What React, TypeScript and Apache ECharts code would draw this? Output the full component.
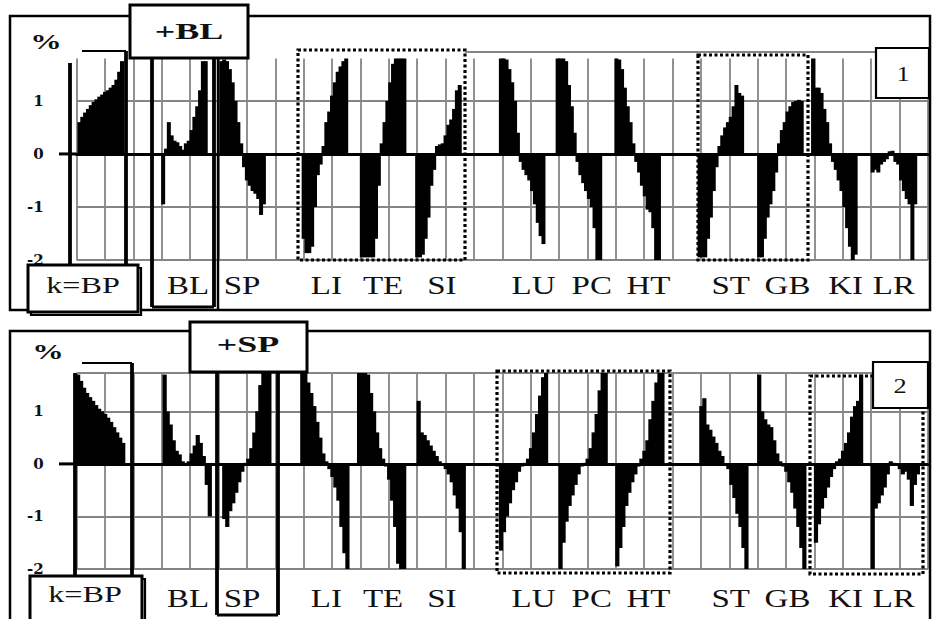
import React, { useEffect, useRef } from 'react';
import * as echarts from 'echarts';

// ---- data (values in %) ----
const SEGMENTS = ['BP', 'BL', 'SP', 'LI', 'TE', 'SI', 'LU', 'PC', 'HT', 'ST', 'GB', 'KI', 'LR'];
// segment start on the x axis (grid units)
const SEG_START_1 = [0.05, 3.0, 5.05, 7.95, 10.0, 11.95, 14.9, 16.9, 18.97, 21.9, 24.0, 25.9, 28.0];
const SEG_START_2 = [0.0, 3.05, 5.15, 7.9, 9.9, 12.0, 14.9, 17.0, 19.0, 21.96, 24.0, 26.0, 28.0];
const STEP_1 = 0.1;
const STEP_2 = 0.106;
// label centre positions for BL..LR (grid units)
const LABEL_POS = [3.93, 5.83, 8.8, 10.8, 12.87, 16.1, 18.15, 20.15, 23.05, 25.05, 27.1, 28.8];

const P1_BP = [0.6, 0.7, 0.78, 0.85, 0.92, 0.98, 1.03, 1.08, 1.12, 1.17, 1.2, 1.25, 1.3, 1.4, 1.55, 1.75];
const P1_BL = [-0.95, 0.1, 0.6, 0.35, 0.25, 0.22, 0.15, 0.08, 0.2, 0.25, 0.45, 0.7, 0.9, 1.2, 1.75, 1.75];
const P1_SP = [1.75, 1.78, 1.75, 1.6, 1.35, 1.0, 0.6, 0.2, -0.25, -0.5, -0.6, -0.7, -0.75, -0.85, -1.15, -0.95];
const P1_LI = [-1.6, -1.87, -1.87, -1.75, -1.0, -0.4, -0.2, 0.15, 0.6, 0.8, 1.1, 1.35, 1.55, 1.65, 1.75, 1.8];
const P1_TE = [-1.95, -1.95, -1.95, -1.95, -1.95, -1.6, -0.6, 0.2, 0.6, 1.0, 1.35, 1.7, 1.8, 1.8, 1.8, 1.8];
const P1_SI = [-1.95, -1.95, -1.9, -1.6, -1.2, -0.6, -0.3, 0.15, 0.18, 0.2, 0.35, 0.55, 0.65, 0.85, 1.2, 1.3];
const P1_LU = [1.8, 1.8, 1.78, 1.6, 1.35, 1.0, 0.4, -0.15, -0.3, -0.4, -0.5, -0.7, -0.95, -1.3, -1.55, -1.7];
const P1_PC = [1.8, 1.8, 1.8, 1.75, 1.3, 0.9, 0.4, -0.15, -0.4, -0.55, -0.7, -0.85, -1.0, -1.4, -2.0, -2.0];
const P1_HT = [1.8, 1.78, 1.6, 1.25, 0.9, 0.6, 0.2, -0.15, -0.35, -0.6, -0.8, -1.05, -1.1, -1.4, -2.0, -2.0];
const P1_ST = [-1.95, -1.95, -1.95, -1.6, -1.2, -0.7, -0.25, 0.15, 0.35, 0.5, 0.6, 0.7, 0.9, 1.3, 1.15, 1.1];
const P1_GB = [-1.95, -1.95, -1.6, -1.2, -0.95, -0.7, -0.35, 0.2, 0.45, 0.6, 0.8, 0.9, 0.98, 1.0, 1.02, 1.0];
const P1_KI = [1.8, 1.25, 1.25, 1.15, 0.85, 0.6, 0.2, -0.15, -0.3, -0.5, -0.7, -1.0, -1.4, -1.75, -2.0, -1.9];
const P1_LR = [-0.35, -0.3, -0.35, -0.2, -0.15, -0.1, 0.05, 0.06, -0.15, -0.2, -0.5, -0.7, -0.85, -0.95, -2.0, -0.95];

const P2_BP = [1.7, 1.58, 1.45, 1.35, 1.27, 1.2, 1.12, 1.05, 1.0, 0.95, 0.88, 0.8, 0.7, 0.6, 0.5, 0.4];
const P2_BL = [1.7, 1.0, 0.75, 0.45, 0.25, 0.18, 0.05, 0.02, 0.05, 0.2, 0.35, 0.55, 0.4, 0.15, -0.4, -1.0];
const P2_SP = [-1.05, -1.2, -0.9, -0.75, -0.55, -0.35, -0.15, 0.02, 0.1, 0.3, 0.6, 1.0, 1.5, 1.73, 1.73, 1.73];
const P2_LI = [1.73, 1.73, 1.55, 1.35, 1.1, 0.8, 0.5, 0.2, 0.05, -0.1, -0.25, -0.45, -0.7, -1.2, -1.7, -2.0];
const P2_TE = [1.73, 1.73, 1.73, 1.7, 1.35, 1.0, 0.6, 0.3, 0.1, -0.05, -0.3, -0.7, -1.2, -1.9, -2.0, -2.0];
const P2_SI = [1.2, 0.6, 0.55, 0.45, 0.35, 0.25, 0.15, 0.05, 0.0, -0.1, -0.2, -0.35, -0.6, -0.85, -1.3, -2.0];
const P2_LU = [-1.65, -1.3, -1.0, -0.75, -0.5, -0.35, -0.15, -0.05, 0.02, 0.1, 0.3, 0.6, 0.95, 1.3, 1.65, 1.73];
const P2_PC = [-2.0, -1.5, -1.1, -0.8, -0.6, -0.4, -0.2, -0.05, 0.02, 0.1, 0.3, 0.6, 0.95, 1.4, 1.73, 1.73];
const P2_HT = [-1.95, -1.6, -1.2, -0.8, -0.55, -0.35, -0.2, -0.05, 0.1, 0.25, 0.45, 0.85, 1.2, 1.55, 1.73, 1.73];
const P2_ST = [1.1, 1.25, 0.75, 0.65, 0.52, 0.4, 0.25, 0.15, -0.02, -0.1, -0.4, -0.65, -0.95, -1.2, -1.6, -2.0];
const P2_GB = [1.7, 1.0, 0.85, 0.75, 0.7, 0.45, 0.2, 0.05, -0.05, -0.15, -0.35, -0.55, -0.85, -1.2, -1.6, -2.0];
const P2_KI = [-1.5, -1.15, -0.85, -0.65, -0.45, -0.25, -0.1, 0.05, 0.1, 0.25, 0.4, 0.6, 0.9, 1.1, 1.2, 1.7];
const P2_LR = [-2.0, -0.85, -0.75, -0.6, -0.45, -0.2, 0.05, 0.02, -0.02, -0.1, -0.2, -0.15, -0.3, -0.8, -0.4, -0.2];

const PANEL1 = [P1_BP, P1_BL, P1_SP, P1_LI, P1_TE, P1_SI, P1_LU, P1_PC, P1_HT, P1_ST, P1_GB, P1_KI, P1_LR];
const PANEL2 = [P2_BP, P2_BL, P2_SP, P2_LI, P2_TE, P2_SI, P2_LU, P2_PC, P2_HT, P2_ST, P2_GB, P2_KI, P2_LR];

function buildBars(segs: number[][], starts: number[], step: number) {
  const out: number[][] = [];
  segs.forEach((vals, k) => {
    vals.forEach((v, i) => out.push([starts[k] + (i + 0.5) * step, v]));
  });
  return out;
}

const FONT = '"Liberation Serif", "Times New Roman", serif';
const INK = '#111';

export default function App() {
  const ref = useRef<HTMLDivElement>(null);
  useEffect(() => {
    if (!ref.current) return;
    const chart = echarts.init(ref.current, undefined, { renderer: 'svg' });
    const gridLine = { color: '#858585', width: 1.8 };
    const yLabel = {
      formatter: (v: number) => (Number.isInteger(v) ? String(v) : ''),
      fontFamily: '"DejaVu Serif", serif',
      fontWeight: 'bold',
      fontSize: 15,
      color: INK,
      margin: 33,
    };
    const mkX = (i: number) => ({
      type: 'value', gridIndex: i, min: 0, max: 30, interval: 1,
      axisLabel: { show: false }, axisTick: { show: false },
      axisLine: { show: true, onZero: true, lineStyle: { color: '#000', width: 3 } },
      splitLine: { show: true, lineStyle: gridLine },
    });
    const option: any = {
      animation: false,
      backgroundColor: '#fff',
      grid: [
        { left: 76.6, right: 7, top: 58.5, bottom: 359 },
        { left: 76.6, right: 7, top: 373, bottom: 50 },
      ],
      xAxis: [mkX(0), mkX(1)],
      yAxis: [
        { type: 'value', gridIndex: 0, min: -2, max: 1.8, interval: 1, axisLine: { show: false }, axisTick: { show: false },
          splitLine: { show: true, showMaxLine: false, lineStyle: gridLine }, axisLabel: yLabel },
        { type: 'value', gridIndex: 1, min: -2, max: 1.73, interval: 1, axisLine: { show: false }, axisTick: { show: false },
          splitLine: { show: true, lineStyle: gridLine }, axisLabel: yLabel },
      ],
      series: [
        { type: 'bar', xAxisIndex: 0, yAxisIndex: 0, data: buildBars(PANEL1, SEG_START_1, STEP_1), barWidth: 4,
          itemStyle: { color: '#000' }, silent: true },
        { type: 'bar', xAxisIndex: 1, yAxisIndex: 1, data: buildBars(PANEL2, SEG_START_2, STEP_2), barWidth: 4.2,
          itemStyle: { color: '#000' }, silent: true },
      ],
    };
    chart.setOption(option);

    const g: any[] = [];
    const T = (text: string, x: number, y: number, size: number, bold = false, sx = 1.35) =>
      g.push({ type: 'text', x, y, scaleX: sx, z: 130, style: {
        text, fontSize: size, fontFamily: FONT, fontWeight: bold ? 'bold' : 'normal', fill: INK,
        align: 'center', verticalAlign: 'middle', textAlign: 'center', textVerticalAlign: 'middle' } });
    const L = (x1: number, y1: number, x2: number, y2: number, w = 3.5, color = '#000', dash?: number[]) =>
      g.push({ type: 'line', z: 110, shape: { x1, y1, x2, y2 }, style: { stroke: color, lineWidth: w, lineDash: dash } });
    const R = (x: number, y: number, w: number, h: number, lw = 3, fill: string = '#fff', dash?: number[], z = 120) =>
      g.push({ type: 'rect', z, shape: { x, y, width: w, height: h }, style: { fill, stroke: '#000', lineWidth: lw, lineDash: dash } });
    const DOT = [3, 2.5];

    // ---------- panel 1 ----------
    R(10, 16, 920, 294, 2.5, 'none', undefined, 105);
    const z1 = chart.convertToPixel({ gridIndex: 0 }, [0, 0]) as number[];
    L(59, z1[1], z1[0], z1[1], 3);
    L(465, 52, 928, 52, 1.8, '#858585');
    // BP highlight
    L(70, 63, 70, 265, 3.8);
    L(126, 51, 126, 265, 3.8);
    L(82, 51, 126, 51, 2.2);
    // BL highlight
    L(152, 58, 152, 307, 3.8);
    L(214, 58, 214, 307, 3.8);
    L(152, 307, 214, 307, 3);
    L(218, 58, 218, 310, 2.5);
    // dotted boxes
    R(298, 50, 167, 210, 3.2, 'none', DOT, 112);
    R(698, 55, 110, 205, 3.2, 'none', DOT, 112);
    // label boxes
    R(130, 5, 118, 53, 3);
    R(31, 268, 110, 47, 2.2, '#fff', undefined, 119);
    R(28, 265, 110, 47, 3);
    R(876, 48, 53, 50, 2.2);
    T('+BL', 189, 31, 24, true, 1.5);
    T('k=BP', 83, 285, 23, false, 1.4);
    T('1', 903, 73, 22, false, 1.2);
    T('%', 46, 42, 21, true, 1.5);
    LABEL_POS.forEach((u, i) => {
      const p = chart.convertToPixel({ gridIndex: 0 }, [u, -2]) as number[];
      T(SEGMENTS[i + 1], p[0], 285, 25, false, 1.32);
    });

    // ---------- panel 2 ----------
    R(10, 331, 920, 290, 2.5, 'none', undefined, 105);
    const z2 = chart.convertToPixel({ gridIndex: 1 }, [0, 0]) as number[];
    L(59, z2[1], z2[0], z2[1], 3);
    // BP highlight
    L(75, 373, 75, 576, 3.8);
    L(132, 363, 132, 576, 3.8);
    L(82, 363, 132, 363, 2.2);
    // SP highlight
    L(217, 372, 217, 615, 3.8);
    L(278, 372, 278, 615, 3.8);
    L(217, 615, 278, 615, 3);
    // dotted boxes
    R(497, 371, 173, 202, 3.2, 'none', DOT, 112);
    R(810, 376, 113, 198, 3.2, 'none', DOT, 112);
    // label boxes
    R(190, 322, 117, 50, 3);
    R(33, 579, 112, 45, 2.2, '#fff', undefined, 119);
    R(30, 576, 112, 45, 3);
    R(873, 362, 55, 46, 2.2);
    T('+SP', 248, 344, 24, true, 1.5);
    T('k=BP', 85, 594, 23, false, 1.4);
    T('2', 900, 385, 22, false, 1.2);
    T('%', 48, 352, 21, true, 1.5);
    LABEL_POS.forEach((u, i) => {
      const p = chart.convertToPixel({ gridIndex: 1 }, [u, -2]) as number[];
      T(SEGMENTS[i + 1], p[0], 598, 25, false, 1.32);
    });

    chart.setOption({ graphic: g });
    return () => chart.dispose();
  }, []);
  return (
    <div ref={ref} style={{ position: 'absolute', left: 0, top: 0, width: 935, height: 619, background: '#fff' }} />
  );
}
